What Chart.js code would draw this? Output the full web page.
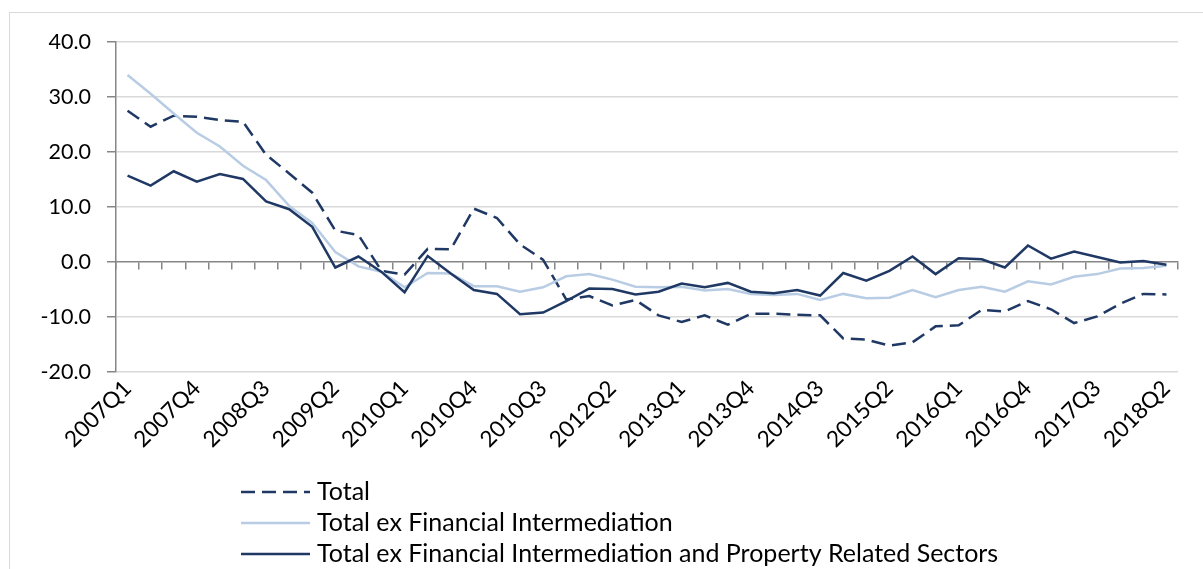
<!DOCTYPE html>
<html><head><meta charset="utf-8">
<script src="https://cdn.jsdelivr.net/npm/chart.js@4/dist/chart.umd.min.js"></script>
<style>
html,body{margin:0;padding:0;background:#fff;overflow:hidden;width:1203px;height:569px;}
#frame{position:absolute;left:9px;top:12px;width:1400px;height:800px;border:1.5px solid #d9d9d9;}
#wrap{position:absolute;left:0;top:0;width:1203px;height:569px;}
</style></head><body>
<div id="frame"></div>
<div id="wrap"><canvas id="c" width="1203" height="569"></canvas></div>
<script>
const categories = [
 "2007Q1","2007Q2","2007Q3","2007Q4","2008Q1","2008Q2","2008Q3","2008Q4",
 "2009Q1","2009Q2","2009Q3","2009Q4","2010Q1","2010Q2","2010Q3","2010Q4",
 "2011Q1","2011Q2","2010Q3","2011Q4","2012Q1","2012Q2","2012Q3","2012Q4",
 "2013Q1","2013Q2","2013Q3","2013Q4","2014Q1","2014Q2","2014Q3","2014Q4",
 "2015Q1","2015Q2","2015Q3","2015Q4","2016Q1","2016Q2","2016Q3","2016Q4",
 "2017Q1","2017Q2","2017Q3","2017Q4","2018Q1","2018Q2"
];
const total = [
 27.5,24.6,26.6,26.4,25.8,25.5,19.5,16.1,12.6,5.7,4.9,-1.6,-2.3,2.4,2.3,9.7,
 8.0,3.2,0.4,-6.8,-6.2,-7.9,-6.9,-9.7,-10.9,-9.7,-11.4,-9.4,-9.4,-9.6,-9.7,-13.9,
 -14.1,-15.2,-14.6,-11.7,-11.5,-8.7,-9.0,-7.1,-8.6,-11.1,-9.9,-7.6,-5.8,-5.9
];
const totalExFI = [
 34.0,30.6,27.0,23.5,21.0,17.5,14.9,10.2,7.1,1.8,-0.8,-1.8,-4.6,-2.0,-2.1,-4.4,
 -4.4,-5.4,-4.6,-2.6,-2.2,-3.2,-4.5,-4.6,-4.5,-5.2,-4.9,-5.8,-6.0,-5.8,-6.9,-5.8,
 -6.6,-6.5,-5.1,-6.4,-5.1,-4.5,-5.4,-3.5,-4.1,-2.7,-2.2,-1.2,-1.1,-0.7
];
const totalExFIProp = [
 15.7,13.9,16.5,14.6,16.0,15.1,11.0,9.6,6.4,-1.0,1.0,-1.8,-5.5,1.1,-2.1,-5.1,
 -5.8,-9.5,-9.2,-7.1,-4.8,-4.9,-5.9,-5.4,-3.9,-4.6,-3.8,-5.4,-5.7,-5.1,-6.1,-2.0,
 -3.4,-1.6,1.0,-2.2,0.7,0.5,-1.0,3.0,0.6,1.9,0.9,-0.1,0.2,-0.5
];
const seriesNames = ["Total","Total ex Financial Intermediation","Total ex Financial Intermediation and Property Related Sectors"];
const yMin = -20, yMax = 40, yStep = 10;
const labelEvery = 3;

const DARK = '#1f3864', LIGHT = '#b8cce4', AXIS = '#868686', GRID = '#d9d9d9';
const FONT = 'Lato';

const stackedLegend = {
  id: 'stackedLegend',
  afterDraw(chart, args, o) {
    const ctx = chart.ctx;
    ctx.save();
    chart.data.datasets.forEach((ds, i) => {
      const y = o.top + i * o.rowHeight;
      ctx.beginPath();
      ctx.setLineDash(ds.borderDash || []);
      ctx.strokeStyle = ds.borderColor;
      ctx.lineWidth = ds.borderWidth;
      ctx.moveTo(o.left, y);
      ctx.lineTo(o.left + o.lineLength, y);
      ctx.stroke();
      ctx.setLineDash([]);
      ctx.fillStyle = '#000';
      ctx.font = o.fontSize + 'px ' + FONT;
      ctx.textBaseline = 'middle';
      ctx.textAlign = 'left';
      ctx.fillText(ds.label, o.left + o.lineLength + o.gap, y);
    });
    ctx.restore();
  }
};

new Chart(document.getElementById('c'), {
  type: 'line',
  data: {
    labels: categories,
    datasets: [
      {label: seriesNames[0], data: total, borderColor: DARK, borderWidth: 2.5, borderDash: [14, 7], pointRadius: 0, tension: 0, fill: false, order: 3},
      {label: seriesNames[1], data: totalExFI, borderColor: LIGHT, borderWidth: 2.5, pointRadius: 0, tension: 0, fill: false, order: 2},
      {label: seriesNames[2], data: totalExFIProp, borderColor: DARK, borderWidth: 2.5, pointRadius: 0, tension: 0, fill: false, order: 1}
    ]
  },
  options: {
    responsive: false,
    animation: false,
    layout: {padding: {left: 0, right: 25, top: 42, bottom: 0}},
    plugins: {
      legend: {display: false},
      tooltip: {enabled: false},
      stackedLegend: {left: 241, top: 492, rowHeight: 31, lineLength: 69, gap: 7, fontSize: 25}
    },
    scales: {
      x: {
        type: 'category',
        offset: true,
        grid: {display: false, offset: true, drawTicks: false},
        border: {display: false},
        ticks: {
          autoSkip: false, maxRotation: 45, minRotation: 45, padding: 3,
          color: '#000', font: {family: FONT, size: 22.5},
          callback: (v, i) => (i % labelEvery === 0 ? categories[i] : '')
        },
        afterFit(s) { s.height = 197; }
      },
      x2: {
        type: 'category',
        labels: categories,
        position: {y: 0},
        offset: true,
        grid: {offset: true, drawOnChartArea: false, drawTicks: true, tickLength: 7, color: AXIS, lineWidth: 1.5},
        border: {display: true, color: AXIS, width: 1.5},
        ticks: {display: false}
      },
      y: {
        min: yMin, max: yMax,
        ticks: {stepSize: yStep, padding: 16, color: '#000', font: {family: FONT, size: 21.5},
          callback: v => Number(v).toFixed(1)},
        grid: {color: c => (c.tick && c.tick.value === 0 ? 'rgba(0,0,0,0)' : GRID), lineWidth: 1.5,
          tickColor: AXIS, tickLength: 9, drawTicks: true},
        border: {color: AXIS, width: 1.5},
        afterFit(s) { s.width = 116; }
      }
    }
  },
  plugins: [stackedLegend]
});
</script>
</body></html>
